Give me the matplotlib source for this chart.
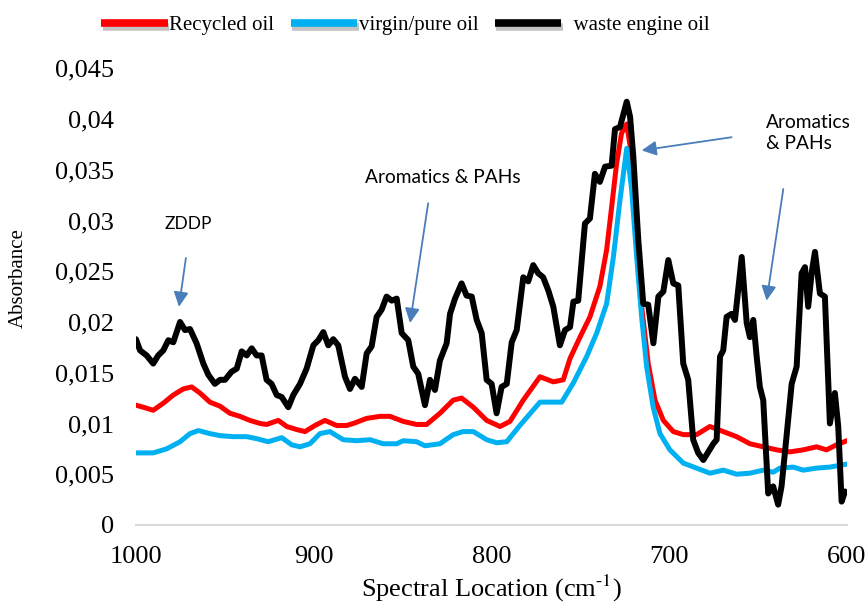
import matplotlib
matplotlib.use("Agg")
import matplotlib.pyplot as plt
import matplotlib.patheffects as pe
from matplotlib.ticker import FuncFormatter, MultipleLocator

# ---------------- data ----------------
black_x = [1000, 997.7, 994, 990.3, 987.5, 984.6, 981.8, 979, 975.2, 972.4, 969.6, 965.9, 962.1,
           959.3, 955.6, 952.7, 949.9, 946.2, 943.3, 940.5, 937.7, 934.9, 932.1, 929.3, 926.5,
           923.7, 920.8, 918, 914.3, 911.5, 907.7, 904, 900.2, 897.4, 894.6, 891.8, 889, 886.2,
           882.4, 879.6, 876.8, 873, 870.2, 867.4, 864.6, 861.8, 859, 856.1, 853.3, 850.5, 846.8,
           844, 841.2, 837.4, 834.6, 831.8, 829, 825.2, 823.3, 820.5, 816.8, 814, 811.1, 808.3,
           805.5, 802.7, 799.9, 797.1, 794.3, 791.4, 788.6, 785.8, 782.1, 779.3, 776.5, 773.7,
           770.9, 768.0, 765.2, 761.5, 758.6, 755.8, 753.9, 751.2, 747.4, 744.6, 741.8, 739,
           736.1, 732.4, 730.5, 727.7, 723.9, 722.0, 720.2, 717.4, 714.6, 711.8, 708.9, 706.1,
           703.3, 700.5, 697.7, 694.9, 692.1, 689.3, 686.5, 683.7, 680.8, 678, 675.2, 673.3,
           671.4, 669.6, 667.7, 664.9, 663.0, 659.2, 656.4, 654.6, 652.7, 650.8, 649, 647.1,
           644.3, 641.5, 638.7, 636.8, 634, 631.1, 628.3, 625.5, 623.6, 621.8, 619.9, 618,
           615.2, 612.4, 609.6, 606.8, 604.9, 603, 601.1]
black_y = [0.0183, 0.0172, 0.0167, 0.0159, 0.0167, 0.0172, 0.0182, 0.0180, 0.0200, 0.0192, 0.0193,
           0.0179, 0.0159, 0.0148, 0.0139, 0.0143, 0.0143, 0.0151, 0.0154, 0.0171, 0.0167, 0.0174,
           0.0167, 0.0167, 0.0143, 0.0139, 0.0128, 0.0126, 0.0116, 0.0128, 0.0139, 0.0154, 0.0177,
           0.0182, 0.0190, 0.0177, 0.0183, 0.0177, 0.0146, 0.0134, 0.0144, 0.0136, 0.0169, 0.0176,
           0.0205, 0.0212, 0.0225, 0.0221, 0.0223, 0.0189, 0.0182, 0.0156, 0.0149, 0.0118, 0.0143,
           0.0133, 0.0162, 0.0179, 0.0208, 0.0223, 0.0238, 0.0226, 0.0225, 0.0202, 0.0189, 0.0143,
           0.0139, 0.0110, 0.0136, 0.0139, 0.0180, 0.0192, 0.0244, 0.0240, 0.0256, 0.0248, 0.0244,
           0.0231, 0.0215, 0.0177, 0.0192, 0.0195, 0.0220, 0.0221, 0.0297, 0.0302, 0.0346, 0.0338,
           0.0353, 0.0354, 0.0390, 0.0392, 0.0417, 0.0402, 0.0363, 0.0281, 0.0218, 0.0217, 0.0179,
           0.0225, 0.0230, 0.0261, 0.0238, 0.0236, 0.0159, 0.0143, 0.0084, 0.0071, 0.0064, 0.0072,
           0.0080, 0.0084, 0.0166, 0.0172, 0.0205, 0.0208, 0.0202, 0.0264, 0.0199, 0.0185, 0.0202,
           0.0166, 0.0136, 0.0123, 0.0031, 0.0038, 0.0020, 0.0038, 0.0087, 0.0139, 0.0156, 0.0248,
           0.0254, 0.0215, 0.0248, 0.0269, 0.0228, 0.0225, 0.0100, 0.0130, 0.0097, 0.0023, 0.0033]

red_x = [1000, 995.9, 990.3, 984.6, 979, 973.4, 968.7, 964, 958.4, 952.7, 947.1, 941.5, 935.9,
         930.2, 926.5, 919.9, 915.2, 909.6, 904.9, 899.3, 893.7, 887.1, 881.5, 877.7, 870.2,
         862.7, 857.1, 849.6, 842.1, 836.5, 829, 821.5, 816.8, 810.2, 802.7, 795.2, 789.6, 782.1,
         772.7, 765.2, 759.6, 755.8, 750.2, 744.6, 739, 735.2, 732.4, 729.6, 726.8, 723.9, 721.1,
         718.3, 715.5, 711.8, 708, 703.3, 697.7, 692.1, 684.6, 677.1, 669.6, 662.1, 654.6, 647.1,
         639.6, 632.1, 624.6, 617.1, 611.5, 605.8, 600]
red_y = [0.0118, 0.0116, 0.0113, 0.0120, 0.0128, 0.0134, 0.0136, 0.0130, 0.0121, 0.0117, 0.0110,
         0.0107, 0.0103, 0.0100, 0.0099, 0.0103, 0.0097, 0.0094, 0.0092, 0.0098, 0.0103, 0.0098,
         0.0098, 0.0100, 0.0105, 0.0107, 0.0107, 0.0102, 0.0099, 0.0099, 0.0110, 0.0123, 0.0125,
         0.0116, 0.0103, 0.0097, 0.0102, 0.0123, 0.0146, 0.0141, 0.0143, 0.0164, 0.0185, 0.0205,
         0.0235, 0.0271, 0.0313, 0.0356, 0.0386, 0.0395, 0.0363, 0.0281, 0.0215, 0.0159, 0.0123,
         0.0103, 0.0092, 0.0089, 0.0089, 0.0097, 0.0092, 0.0087, 0.0080, 0.0077, 0.0074, 0.0072,
         0.0074, 0.0077, 0.0074, 0.0079, 0.0083]

blue_x = [1000, 990.3, 982.7, 975.2, 969.6, 964.9, 958.4, 952.7, 945.3, 937.7, 932.1, 925.6, 918.0,
          912.4, 907.7, 902.1, 896.5, 890.9, 883.4, 875.8, 868.3, 860.9, 853.3, 849.6, 842.1,
          837.4, 829, 821.5, 816.0, 810.2, 802.7, 797.1, 791.4, 784, 772.7, 765.2, 760.5, 753.9,
          746.4, 740.8, 735.2, 731.4, 727.7, 723.9, 721.1, 718.3, 715.5, 712.7, 709, 705.2, 699.6,
          692.1, 684.6, 677.1, 669.6, 662.1, 654.6, 647.1, 641.5, 637.7, 630.2, 624.6, 617.1,
          609.6, 600]
blue_y = [0.0071, 0.0071, 0.0075, 0.0082, 0.0090, 0.0093, 0.0090, 0.0088, 0.0087, 0.0087, 0.0085,
          0.0082, 0.0086, 0.0079, 0.0077, 0.0080, 0.0090, 0.0092, 0.0084, 0.0083, 0.0084, 0.0080,
          0.0080, 0.0083, 0.0082, 0.0078, 0.0080, 0.0089, 0.0092, 0.0092, 0.0084, 0.0081, 0.0082,
          0.0098, 0.0121, 0.0121, 0.0121, 0.0140, 0.0166, 0.0189, 0.0218, 0.0264, 0.0320, 0.0371,
          0.0330, 0.0264, 0.0205, 0.0156, 0.0116, 0.0090, 0.0074, 0.0061, 0.0056, 0.0051, 0.0054,
          0.0050, 0.0051, 0.0054, 0.0052, 0.0056, 0.0057, 0.0054, 0.0056, 0.0057, 0.0060]

series_names = ["Recycled oil", "virgin/pure oil", "waste engine oil"]
series_colors = ["#ff0000", "#00b0f0", "#000000"]

x_ticks = [1000, 900, 800, 700, 600]

# ---------------- figure ----------------
plt.rcParams["font.family"] = ["Liberation Serif", "DejaVu Serif"]
plt.rcParams["mathtext.fontset"] = "stix"

fig = plt.figure(figsize=(8.66, 6.09), dpi=100)
ax = fig.add_axes([0.157, 0.138, 0.821, 0.750])

ax.plot(red_x, red_y, color=series_colors[0], lw=3.6, label=series_names[0],
        solid_joinstyle="round", solid_capstyle="round")
ax.plot(blue_x, blue_y, color=series_colors[1], lw=3.6, label=series_names[1],
        solid_joinstyle="round", solid_capstyle="round")
ax.plot(black_x, black_y, color=series_colors[2], lw=4.3, label="  " + series_names[2],
        solid_joinstyle="round", solid_capstyle="round")

ax.set_xlim(1000, 600)
ax.set_ylim(0, 0.045)
ax.set_xticks(x_ticks)
ax.yaxis.set_major_locator(MultipleLocator(0.005))


def fmt(v, pos):
    v = round(v, 3)
    if v == 0:
        return "0"
    return ("%g" % v).replace(".", ",")


ax.yaxis.set_major_formatter(FuncFormatter(fmt))
ax.tick_params(axis="both", length=0, labelsize=19)
ax.tick_params(axis="y", pad=16)
ax.tick_params(axis="x", pad=15)

for s in ["top", "right", "left"]:
    ax.spines[s].set_visible(False)
ax.spines["bottom"].set_color("#d9d9d9")
ax.spines["bottom"].set_linewidth(1.5)

ax.set_xlabel("Spectral Location (cm$^{\\mathregular{\u2010}1}$)", fontsize=19, labelpad=4)
ax.set_ylabel("Absorbance", fontsize=15)
ax.yaxis.set_label_coords(-0.152, 0.54)

# ---------------- annotations ----------------
arrow_color = "#4a7ebb"
ann_font = dict(family=["Lato", "DejaVu Sans"], fontsize=13.8, color="black")
aprops = dict(arrowstyle="-|>", color=arrow_color, lw=1.3, mutation_scale=22, shrinkA=0, shrinkB=0)

ax.text(970.7, 0.0297, "ZDDP", ha="center", va="center",
        family=["Lato", "DejaVu Sans"], fontsize=12.5, color="black")
ax.annotate("", xy=(975.8, 0.0215), xytext=(971.9, 0.0263), arrowprops=aprops)

ax.text(827.5, 0.0342, "Aromatics & PAHs", ha="center", va="center", **ann_font)
ax.annotate("", xy=(845.8, 0.0199), xytext=(835.6, 0.0317), arrowprops=aprops)

ax.text(645.6, 0.0386, "Aromatics\n& PAHs", ha="left", va="center", linespacing=1.25, **ann_font)
ax.annotate("", xy=(715.5, 0.0369), xytext=(664.9, 0.0382), arrowprops=aprops)
ax.annotate("", xy=(645.2, 0.0221), xytext=(635.8, 0.0331), arrowprops=aprops)

# ---------------- legend ----------------
leg = fig.legend(loc="center", bbox_to_anchor=(0.468, 0.958), ncol=3, frameon=False,
                 prop={"family": ["Liberation Serif"], "size": 15},
                 handlelength=3.2, handletextpad=0.05, columnspacing=0.8)
for line in leg.get_lines():
    line.set_linewidth(5.5)
    line.set_solid_capstyle("butt")
    line.set_path_effects([pe.SimpleLineShadow(offset=(1, -3), shadow_color="#888888", alpha=0.5),
                           pe.Normal()])

fig.savefig("out.png", dpi=100)
